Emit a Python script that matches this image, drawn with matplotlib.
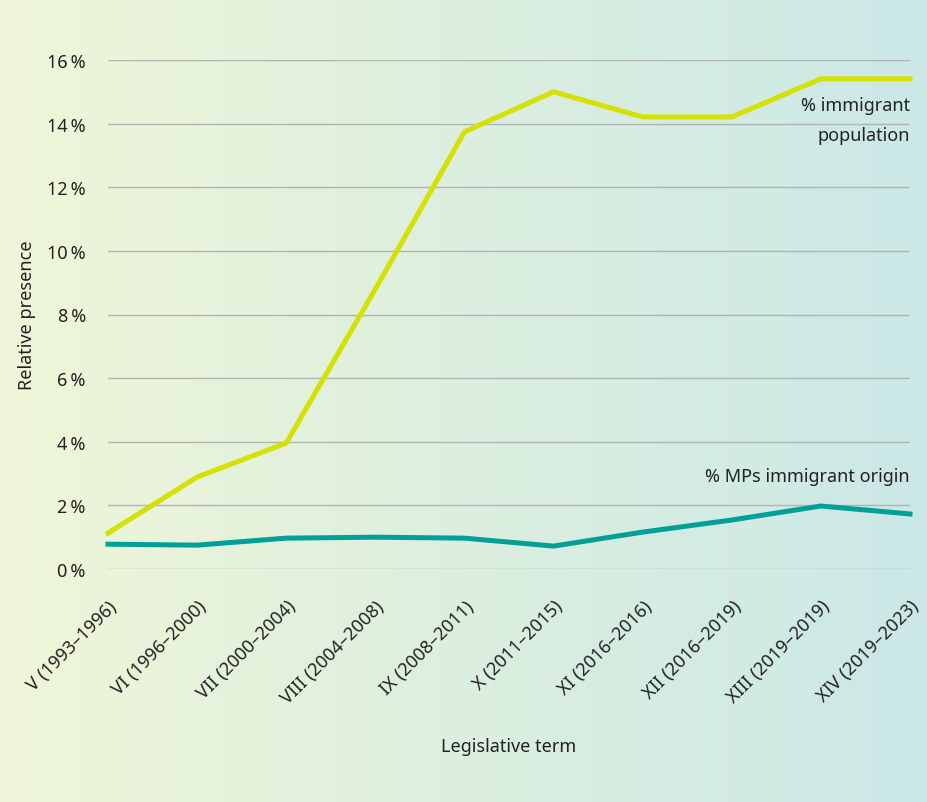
import numpy as np
import matplotlib
matplotlib.use("Agg")
import matplotlib.pyplot as plt
from matplotlib.colors import LinearSegmentedColormap

terms = ["V (1993–1996)", "VI (1996–2000)", "VII (2000–2004)", "VIII (2004–2008)",
         "IX (2008–2011)", "X (2011–2015)", "XI (2016–2016)", "XII (2016–2019)",
         "XIII (2019–2019)", "XIV (2019–2023)"]
immigrant_population = [1.13, 2.89, 3.96, 8.8, 13.74, 15.0, 14.21, 14.21, 15.41, 15.41]
mps_immigrant_origin = [0.78, 0.75, 0.97, 1.0, 0.97, 0.72, 1.16, 1.54, 1.98, 1.73]
yticks = [0, 2, 4, 6, 8, 10, 12, 14, 16]

plt.rcParams['font.family'] = ['Noto Sans', 'DejaVu Sans']
text_color = "#222222"
fs = 13

fig = plt.figure(figsize=(9.27, 8.03), dpi=100)

# background gradient
bg = fig.add_axes([0, 0, 1, 1], zorder=-10)
cmap = LinearSegmentedColormap.from_list("bg", ["#eff6d8", "#dcefdf", "#cbe8e7"])
grad = np.linspace(0, 1, 512).reshape(1, -1)
bg.imshow(grad, aspect='auto', cmap=cmap, extent=[0, 1, 0, 1])
bg.axis('off')

ax = fig.add_axes([108/927, (803-570)/803, (910-108)/927, (570-61)/803])
ax.patch.set_alpha(0)
x = np.arange(len(terms))
ax.plot(x, immigrant_population, color="#d5e100", lw=3.6, solid_joinstyle='miter', zorder=3, clip_on=False)
ax.plot(x, mps_immigrant_origin, color="#009f97", lw=3.6, solid_joinstyle='miter', zorder=3, clip_on=False)

ax.set_xlim(0, len(terms) - 1)
ax.set_ylim(0, 16)
ax.set_yticks(yticks)
ax.set_yticklabels([f"{v}\u2009%" for v in yticks], fontsize=fs, color=text_color)
ax.set_xticks(x)
ax.set_xticklabels(terms, rotation=45, ha='right', rotation_mode='anchor', fontsize=fs, color=text_color)
ax.tick_params(axis='y', length=0, pad=16)
ax.tick_params(axis='x', length=0, pad=20)
ax.grid(axis='y', color="#b3b3b3", lw=1)
ax.set_axisbelow(True)
for s in ax.spines.values():
    s.set_visible(False)

ax.set_ylabel("Relative presence", fontsize=fs, color=text_color, labelpad=8)
fig.text(509/927, 1 - 747/803, "Legislative term", ha='center', va='center', fontsize=fs, color=text_color)

ax.text(9, 14.1, "% immigrant\npopulation", ha='right', va='center', fontsize=fs,
        color=text_color, linespacing=1.85)
ax.text(9, 2.92, "% MPs immigrant origin", ha='right', va='center', fontsize=fs, color=text_color)

fig.savefig("out.png", dpi=100)
